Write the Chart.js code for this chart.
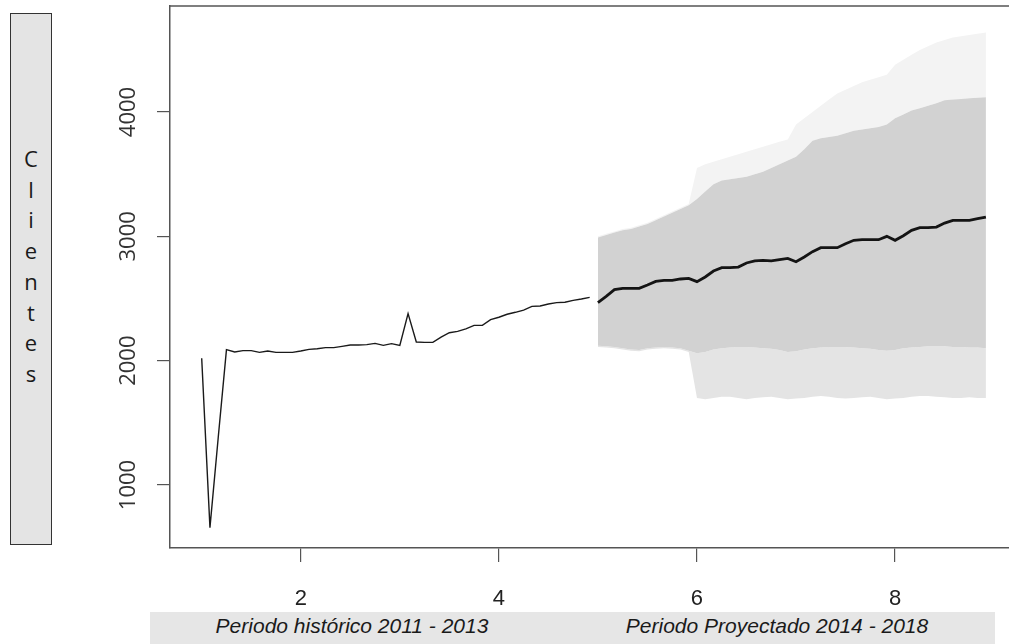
<!DOCTYPE html>
<html>
<head>
<meta charset="utf-8">
<script src="https://cdn.jsdelivr.net/npm/chart.js@4.4.1/dist/chart.umd.min.js"></script>
<style>
  body { margin: 0; background: #fff; }
  #wrap { position: relative; width: 1009px; height: 644px; overflow: hidden; }
  #ylab {
    position: absolute; left: 10px; top: 13px; width: 40px; height: 530px;
    background: #e4e4e4; border: 1.5px solid #333;
  }
  #ylab div {
    position: absolute; left: 0; width: 40px; top: 129px;
    font: 22px "Open Sans"; line-height: 30.7px; text-align: center;
    white-space: pre; color: #1a1a1a;
  }
  #band { position: absolute; left: 150px; top: 612px; width: 845px; height: 32px; background: #e6e6e6; }
  .sub { position: absolute; top: 614px; font: italic 21px "Liberation Sans"; color: #1a1a1a; transform: translateX(-50%); white-space: nowrap; }
</style>
</head>
<body>
<div id="wrap">
  <div id="band"></div>
  <canvas id="chart" width="1009" height="644"></canvas>
  <div id="ylab"><div></div></div>
  <div class="sub" style="left:352px"></div>
  <div class="sub" style="left:777px"></div>
</div>
<script>
// serie mensual: inicio y frecuencia
const freq = 12;
const inicioHist = 1;
const inicioProy = 5;

const historico = [2020, 657, 1380, 2089, 2070, 2081, 2081, 2067, 2078, 2067, 2067, 2067,
  2078, 2091, 2096, 2105, 2105, 2115, 2126, 2126, 2129, 2139, 2123, 2137,
  2123, 2378, 2150, 2147, 2147, 2190, 2225, 2236, 2255, 2284, 2284, 2330,
  2349, 2373, 2389, 2407, 2437, 2440, 2456, 2467, 2470, 2485, 2496, 2509];

const pronostico = [2467, 2517, 2571, 2582, 2582, 2582, 2609, 2638, 2646, 2646, 2657, 2662,
  2636, 2673, 2721, 2748, 2748, 2753, 2786, 2802, 2807, 2802, 2812, 2823,
  2796, 2834, 2877, 2909, 2909, 2909, 2941, 2968, 2973, 2973, 2973, 3000,
  2968, 3005, 3048, 3070, 3070, 3075, 3107, 3129, 3129, 3129, 3142, 3155];

const sup80 = [2990, 3010, 3030, 3050, 3060, 3080, 3100, 3130, 3160, 3190, 3220, 3250,
  3300, 3360, 3420, 3450, 3460, 3470, 3480, 3500, 3520, 3550, 3580, 3610,
  3640, 3700, 3770, 3790, 3800, 3810, 3830, 3850, 3860, 3870, 3880, 3900,
  3950, 3980, 4013, 4030, 4050, 4070, 4094, 4100, 4105, 4110, 4115, 4118];

const inf80 = [2120, 2115, 2110, 2100, 2090, 2085, 2100, 2105, 2110, 2105, 2100, 2080,
  2060, 2070, 2090, 2100, 2105, 2110, 2110, 2105, 2100, 2095, 2085, 2070,
  2075, 2090, 2100, 2105, 2110, 2110, 2110, 2105, 2100, 2095, 2085, 2080,
  2085, 2100, 2105, 2110, 2115, 2115, 2115, 2110, 2110, 2105, 2105, 2100];

const sup95 = [3000, 3020, 3040, 3060, 3070, 3090, 3110, 3140, 3170, 3200, 3230, 3260,
  3550, 3580, 3600, 3620, 3640, 3660, 3680, 3700, 3720, 3740, 3760, 3780,
  3900, 3950, 4000, 4050, 4100, 4150, 4180, 4210, 4240, 4260, 4280, 4300,
  4380, 4420, 4460, 4500, 4530, 4560, 4580, 4600, 4610, 4620, 4630, 4640];

const inf95 = [2110, 2105, 2100, 2090, 2080, 2075, 2090, 2095, 2100, 2095, 2090, 2070,
  1700, 1690, 1700, 1710, 1710, 1700, 1690, 1700, 1705, 1710, 1700, 1690,
  1695, 1700, 1710, 1715, 1710, 1700, 1695, 1700, 1705, 1710, 1700, 1690,
  1695, 1700, 1710, 1715, 1715, 1710, 1705, 1700, 1700, 1705, 1700, 1700];

const xTicks = [2, 4, 6, 8];
const yTicks = [1000, 2000, 3000, 4000];
const etiquetaY = 'Clientes';
const subtitulos = ['Periodo histórico 2011 - 2013', 'Periodo Proyectado 2014 - 2018'];

document.querySelector('#ylab div').textContent = etiquetaY.split('').join('\n');
document.querySelectorAll('.sub').forEach((el, i) => el.textContent = subtitulos[i]);

const puntos = (arr, inicio) => arr.map((v, i) => ({ x: inicio + i / freq, y: v }));

// caja de R (arriba) y etiquetas del eje y giradas
const extras = {
  id: 'extras',
  afterDraw(chart) {
    const ctx = chart.ctx;
    const a = chart.chartArea;
    const y = chart.scales.y;
    ctx.save();
    ctx.strokeStyle = '#555';
    ctx.lineWidth = 1.5;
    ctx.beginPath();
    ctx.moveTo(a.left, a.top);
    ctx.lineTo(a.right, a.top);
    ctx.stroke();
    ctx.fillStyle = '#333';
    ctx.font = '22px "Open Sans"';
    ctx.textAlign = 'center';
    ctx.textBaseline = 'middle';
    yTicks.forEach(v => {
      ctx.save();
      ctx.translate(129, y.getPixelForValue(v));
      ctx.rotate(-Math.PI / 2);
      ctx.fillText(String(v), 0, 0);
      ctx.restore();
    });
    ctx.restore();
  }
};

const banda = (data, color, target, order) => ({
  data: data, borderWidth: 0, pointRadius: 0, backgroundColor: color,
  fill: target === null ? false : { target: target }, order: order
});

new Chart(document.getElementById('chart'), {
  type: 'line',
  data: {
    datasets: [
      banda(puntos(sup95, inicioProy), '#f3f3f3', 2, 5),
      banda(puntos(inf95, inicioProy), '#e4e4e4', 3, 5),
      banda(puntos(sup80, inicioProy), '#d2d2d2', 3, 4),
      banda(puntos(inf80, inicioProy), '#d2d2d2', null, 4),
      { data: puntos(historico, inicioHist), borderColor: '#1a1a1a', borderWidth: 1.4, pointRadius: 0, fill: false, order: 1 },
      { data: puntos(pronostico, inicioProy), borderColor: '#141414', borderWidth: 2.8, pointRadius: 0, fill: false, order: 0 }
    ]
  },
  options: {
    responsive: false,
    animation: false,
    layout: { padding: { top: 6, left: 0, right: 0, bottom: 0 } },
    plugins: { legend: { display: false }, tooltip: { enabled: false } },
    elements: { line: { tension: 0 } },
    scales: {
      x: {
        type: 'linear', min: 0.68, max: 9.15,
        afterBuildTicks: s => { s.ticks = xTicks.map(v => ({ value: v })); },
        afterFit: s => { s.height = 96; },
        grid: { drawOnChartArea: false, drawTicks: true, tickLength: 14, color: '#555', lineWidth: 1.2 },
        border: { display: true, color: '#555', width: 1.5 },
        ticks: { font: { family: 'Liberation Sans', size: 22 }, color: '#222', padding: 24, maxRotation: 0 }
      },
      y: {
        type: 'linear', min: 493, max: 4853,
        afterBuildTicks: s => { s.ticks = yTicks.map(v => ({ value: v })); },
        afterFit: s => { s.width = 170; },
        grid: { drawOnChartArea: false, drawTicks: true, tickLength: 13, color: '#555', lineWidth: 1.2 },
        border: { display: true, color: '#555', width: 1.5 },
        ticks: { display: false }
      }
    }
  },
  plugins: [extras]
});
</script>
</body>
</html>
